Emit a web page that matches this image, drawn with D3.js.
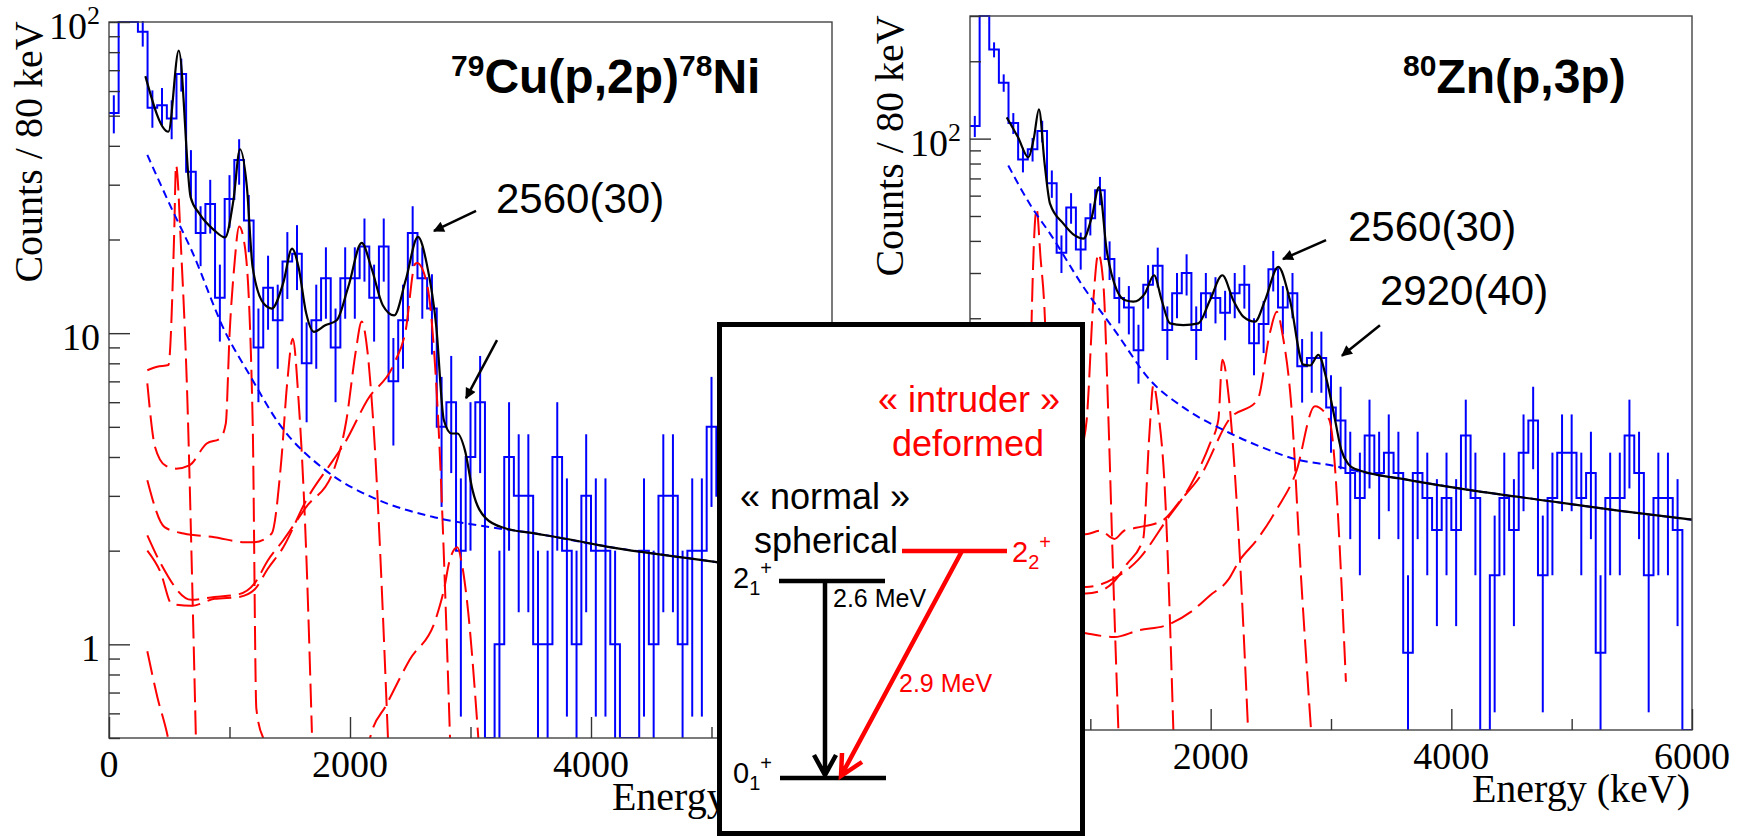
<!DOCTYPE html>
<html>
<head>
<meta charset="utf-8">
<script src="https://cdnjs.cloudflare.com/ajax/libs/d3/7.8.5/d3.min.js"></script>
<style>
  html, body { margin:0; padding:0; background:#fff; }
  svg { display:block; }
  .serif { font-family: "Liberation Serif", "Times New Roman", serif; }
  .sans { font-family: "Liberation Sans", Arial, Helvetica, sans-serif; }
</style>
</head>
<body>
<svg id="fig" width="1748" height="838"></svg>
<script>
// counts per 80 keV bin, 0 - 6000 keV (75 bins)
var binWidth = 80;

var cuCounts = [51,120,110,93,53,54,49,68,33,21, 26,13,27,36,23,9,14,11,17,18,
                8,11,15,9,15,15,19,13,19,7, 11,21,15,12,5,6,2,4,6,0,
                1,4,3,3,1,1,4,2,1,3, 2,2,1,0,0,2,1,3,3,1,
                2,2,5,3,2,4,1,2,3,2, 2,3,1,2,2];

var znCounts = [112,340,222,165,115,83,91,107,67,36, 54,37,49,63,34,24,22,15,27,32,
                18,25,30,18,25,24,21,25,27,16, 19,31,22,25,13,14,14,9,8,5,
                4,7,5,6,5,1,5,4,3,4, 3,7,4,0,2,4,3,6,8,2,
                4,6,6,4,5,1,4,4,7,5, 2,4,4,3,0];

// total fit [keV, counts]
var cuFit = [[302,67],[493,44.4],[579,80.9],[677,27.4],[747,24.3],[874,21.4],[963,20.3],[1033,26.8],
  [1087,39],[1144,29.6],[1192,16.3],[1287,12.4],[1351,12.0],[1446,14.5],[1519,18.7],[1573,16.3],
  [1636,11.6],[1700,10.1],[1795,10.6],[1890,11.0],[1986,14.1],[2097,19.5],[2176,16.3],[2272,12.3],
  [2367,11.4],[2462,14.8],[2564,20.4],[2637,16.7],[2716,10.5],[2779,5.25],[2843,4.76],[2891,4.76],
  [2954,4.2],[3017,3.13],[3128,2.54],[3288,2.36],[3542,2.27],[3859,2.16],[4075,2.08],[5029,1.84],[6000,1.62]];

var znFit = [[305,121],[400,101],[485,84.6],[530,100],[573,130],[620,80],[665,55.9],[776,46.7],[870,42],
  [942,40.8],[1012,49.5],[1072,64.7],[1136,36.8],[1219,25.8],[1290,23.5],[1357,23.2],[1454,25.0],
  [1529,29.4],[1593,23.5],[1662,19.1],[1773,18.8],[1898,19.1],[1994,23.5],[2097,29.4],[2188,23.5],
  [2271,20.3],[2369,19.4],[2452,23.5],[2562,31.7],[2659,23.5],[2770,13.2],[2826,13.1],[2895,14.4],
  [2964,11.5],[3033,8.07],[3084,6.18],[3144,5.41],[3203,5.18],[3619,4.72],[4214,4.25],[4809,3.89],
  [5404,3.56],[6000,3.29]];

// background
var cuBkg = [[318,37.4],[525,24.9],[684,18.5],[969,10.0],[1160,7.42],[1414,5.1],[1795,3.63],[2208,2.94],
  [2684,2.57],[3161,2.38],[3542,2.27],[4075,2.08],[5029,1.84],[6000,1.62]];
var znBkg = [[318,78.6],[512,54.2],[665,42.7],[942,26.5],[1219,17.5],[1496,11.5],[1773,9.0],[2153,7.17],
  [2470,6.18],[2708,5.65],[3025,5.33],[3203,5.1],[3619,4.72],[4214,4.25],[4809,3.89],[5404,3.56],[6000,3.29]];

// simulated response of each transition
var cu580  = [[318,7.6],[400,7.8],[493,7.9],[541,20.9],[556,34.7],[600,18],[651,6],[690,1.6],[721,0.5]];
var cu1080 = [[318,6.9],[382,4.31],[470,3.75],[556,3.67],[667,3.76],[811,4.42],[921,4.58],[969,5.12],
  [1001,10],[1039,16.3],[1080,22],[1128,18.9],[1192,5.25],[1223,0.62],[1280,0.5]];
var cu1520 = [[318,3.37],[461,2.38],[620,2.27],[874,2.21],[1128,2.13],[1208,2.13],[1350,2.27],[1430,3.9],
  [1480,7],[1525,9.6],[1573,6.1],[1636,2.0],[1684,0.52]];
var cu2100 = [[318,2.24],[429,1.82],[684,1.39],[874,1.42],[1080,1.45],[1208,1.57],[1318,1.86],[1446,2.16],
  [1636,2.76],[1859,3.58],[1970,5.25],[2049,8.8],[2097,10.9],[2144,8.8],[2192,5.25],[2315,0.5]];
var cu2560 = [[318,2.0],[429,1.7],[520,1.35],[684,1.33],[874,1.40],[1080,1.42],[1208,1.5],[1318,1.75],
  [1446,2.05],[1636,2.9],[1859,3.9],[1954,4.42],[2144,6.1],[2367,8.0],[2462,10.2],[2541,16.7],
  [2557,16.8],[2637,14.5],[2732,5.25],[2830,0.5]];
var cu2920 = [[318,0.95],[400,0.68],[490,0.5],[560,0.35],[2100,0.35],[2166,0.5],[2303,0.64],[2494,0.89],
  [2716,1.22],[2780,1.5],[2827,1.86],[2891,2.05],[2930,1.8],[2970,1.39],[3065,0.5]];

var zn580  = [[318,7],[420,6.5],[480,7],[505,14],[512,19.7],[554,53.3],[585,35],[623,19.7],[660,5],[700,1],[720,0.5]];
var zn1080 = [[318,6],[500,4.5],[700,4.2],[880,5],[940,6.5],[970,8.07],[1025,23.5],[1066,35.7],[1108,27.3],
  [1149,8.5],[1190,2],[1233,0.5]];
var zn1520 = [[318,3],[600,1.9],[963,1.7],[1100,1.75],[1201,1.9],[1300,2.2],[1439,2.77],[1490,7],[1524,11],
  [1565,8.6],[1617,4.5],[1690,0.5]];
var zn2100 = [[318,3.5],[600,2.2],[963,1.8],[1201,1.95],[1399,2.3],[1637,3.3],[1835,4.5],[1994,6.5],[2064,8.07],
  [2097,13.8],[2153,9.6],[2230,3],[2311,0.5]];
var zn2560 = [[318,5],[600,3.2],[963,2.89],[1082,2.98],[1201,2.77],[1280,2.98],[1379,3.06],[1597,3.26],[1756,3.95],
  [1915,4.87],[2153,8.07],[2390,9.64],[2493,17.6],[2549,21.2],[2600,17],[2668,9.4],[2750,2],[2834,0.5]];
var zn2920 = [[318,2],[600,1.3],[963,1.19],[1201,1.15],[1399,1.22],[1637,1.28],[1835,1.44],[1994,1.67],
  [2153,1.94],[2231,2.25],[2390,2.77],[2549,3.61],[2708,5.01],[2866,9.1],[2985,8.07],[3124,0.77]];

var xTickLabels = [0, 2000, 4000, 6000];
var yTickLabels = [1, 10, 100];

// arrows pointing at the 2^+ candidates [from, to] in keV / counts
var cuArrows = [[[3046,24.7],[2697,21.3]], [[3220,9.5],[2963,6.18]]];
var znArrows = [[[2959,40.3],[2601,34.0]], [[3407,18.8],[3091,14.3]]];

// level-scheme inset (page pixels), drawn over both spectra
var insetBox = {x: 717, y: 322, w: 368, h: 514};

var svg = d3.select("#fig")
  , defs = svg.append("defs");

defs.append("marker")
  .attr("id", "head")
  .attr("viewBox", "0 0 10 10")
  .attr("refX", 9).attr("refY", 5)
  .attr("markerWidth", 13).attr("markerHeight", 11)
  .attr("markerUnits", "userSpaceOnUse")
  .attr("orient", "auto")
  .append("path").attr("d", "M0,0L10,5L0,10z").attr("fill", "#000");

// everything left of the inset (for the partly covered axis title)
defs.append("clipPath").attr("id", "left-of-inset")
  .append("rect").attr("x", 0).attr("y", 0).attr("width", insetBox.x).attr("height", 838);

// labels that fall under the inset are not visible in the figure
function underInset(px, py){
  return px > insetBox.x - 10 && px < insetBox.x + insetBox.w + 10 && py > insetBox.y && py < insetBox.y + insetBox.h;
}

function drawPanel(opt){
  var x = d3.scaleLinear().domain([0, 6000]).range([opt.left, opt.right])
    , y = d3.scaleLog().domain(opt.yDomain).range([opt.bottom, opt.top])
    , g = svg.append("g").attr("id", opt.id)
    , clipId = opt.id + "-clip";

  defs.append("clipPath").attr("id", clipId)
    .append("rect")
    .attr("x", opt.left).attr("y", opt.top - 1)
    .attr("width", opt.right - opt.left).attr("height", opt.bottom - opt.top + 1);

  var plot = g.append("g").attr("clip-path", "url(#" + clipId + ")");

  // histogram outline
  var d = "";
  opt.counts.forEach(function(c, i){
    var yy = c > 0 ? Math.max(y(c), opt.top) : opt.bottom;
    d += (i === 0 ? "M" + x(0) + "," + yy : "V" + yy) + "H" + x((i + 1) * binWidth);
  });
  plot.append("path")
    .attr("d", d)
    .attr("fill", "none")
    .attr("stroke", "#0000ff")
    .attr("stroke-width", 2);

  // poisson error bars
  plot.selectAll(".err")
    .data(opt.counts.map(function(c, i){ return {c: c, i: i}; }).filter(function(e){ return e.c > 0; }))
    .enter().append("line")
    .attr("x1", function(e){ return x((e.i + 0.5) * binWidth); })
    .attr("x2", function(e){ return x((e.i + 0.5) * binWidth); })
    .attr("y1", function(e){ return y(e.c + Math.sqrt(e.c)); })
    .attr("y2", function(e){ var lo = e.c - Math.sqrt(e.c); return lo > 0 ? y(lo) : opt.bottom; })
    .attr("stroke", "#0000ff")
    .attr("stroke-width", 2);

  var line = d3.line()
    .x(function(p){ return x(p[0]); })
    .y(function(p){ return y(p[1]); })
    .curve(d3.curveMonotoneX);

  opt.components.forEach(function(c){
    plot.append("path").datum(c)
      .attr("d", line)
      .attr("fill", "none")
      .attr("stroke", "#ff0000")
      .attr("stroke-width", 2)
      .attr("stroke-dasharray", "24,8");
  });

  plot.append("path").datum(opt.bkg)
    .attr("d", line)
    .attr("fill", "none")
    .attr("stroke", "#0000ff")
    .attr("stroke-width", 2)
    .attr("stroke-dasharray", "8,5");

  plot.append("path").datum(opt.fit)
    .attr("d", line)
    .attr("fill", "none")
    .attr("stroke", "#000")
    .attr("stroke-width", 2.2);

  // frame + ticks (inside, ROOT style)
  g.append("rect")
    .attr("x", opt.left).attr("y", opt.top)
    .attr("width", opt.right - opt.left).attr("height", opt.bottom - opt.top)
    .attr("fill", "none").attr("stroke", "#444").attr("stroke-width", 1.4);

  var isMajor = function(t){ var l = Math.log10(t); return Math.abs(l - Math.round(l)) < 1e-6; }
    , yt = y.ticks()
    , xt = d3.range(0, 6001, 1000);

  function ticks(axis, tr){
    var a = g.append("g").attr("transform", tr).attr("color", "#333").call(axis);
    a.select(".domain").remove();
    a.selectAll("line").attr("stroke-width", 1.4);
  }
  ticks(d3.axisLeft(y).tickValues(yt.filter(isMajor)).tickSize(-21).tickFormat(""), "translate(" + opt.left + ",0)");
  ticks(d3.axisLeft(y).tickValues(yt.filter(function(t){ return !isMajor(t); })).tickSize(-11).tickFormat(""), "translate(" + opt.left + ",0)");
  ticks(d3.axisBottom(x).tickValues(xt.filter(function(t){ return t % 2000 === 0; })).tickSize(-21).tickFormat(""), "translate(0," + opt.bottom + ")");
  ticks(d3.axisBottom(x).tickValues(xt.filter(function(t){ return t % 2000 !== 0; })).tickSize(-11).tickFormat(""), "translate(0," + opt.bottom + ")");

  // tick labels
  g.selectAll(".xlab")
    .data(xTickLabels.filter(function(t){ return !underInset(x(t), opt.bottom + 30); }))
    .enter().append("text")
    .attr("class", "serif")
    .attr("x", function(t){ return x(t); })
    .attr("y", opt.bottom + 39)
    .attr("text-anchor", "middle")
    .style("font-size", "38px")
    .text(function(t){ return t; });

  yTickLabels.forEach(function(t){
    if (underInset(opt.left - 20, y(t))) return;
    var lab = g.append("text")
      .attr("class", "serif")
      .attr("x", opt.left - 9)
      .attr("y", y(t) + 17)
      .attr("text-anchor", "end")
      .style("font-size", "38px");
    if (t === 100) {
      lab.append("tspan").text("10");
      lab.append("tspan").attr("dy", -15).style("font-size", "26px").text("2");
    } else {
      lab.text(t);
    }
  });

  g.append("text")
    .attr("class", "serif")
    .attr("transform", "translate(" + opt.yTitle[0] + "," + opt.yTitle[1] + ") rotate(-90)")
    .attr("text-anchor", "middle")
    .style("font-size", "40px")
    .text("Counts / 80 keV");

  var xt2 = g.append("text")
    .attr("class", "serif")
    .attr("x", opt.right - 2)
    .attr("y", opt.bottom + 72)
    .attr("text-anchor", "end")
    .style("font-size", "40px")
    .text("Energy (keV)");
  if (opt.right > insetBox.x && opt.left < insetBox.x) xt2.attr("clip-path", "url(#left-of-inset)");

  // reaction title
  var title = g.append("text")
    .attr("class", "sans")
    .attr("x", opt.title.x).attr("y", opt.top + opt.title.dy)
    .style("font-size", "48px")
    .style("font-weight", "bold");
  opt.title.parts.forEach(function(p){
    title.append("tspan")
      .attr("dy", p.sup ? -17 : (p.after ? 17 : 0))
      .style("font-size", p.sup ? "30px" : "48px")
      .text(p.t);
  });

  // arrows + energy labels
  opt.arrows.forEach(function(a){
    g.append("line")
      .attr("x1", x(a[0][0])).attr("y1", y(a[0][1]))
      .attr("x2", x(a[1][0])).attr("y2", y(a[1][1]))
      .attr("stroke", "#000").attr("stroke-width", 2.5)
      .attr("marker-end", "url(#head)");
  });
  opt.labels.forEach(function(l){
    g.append("text")
      .attr("class", "sans")
      .attr("x", opt.left + l.dx).attr("y", opt.top + l.dy)
      .style("font-size", "42px")
      .text(l.t);
  });
}

drawPanel({
  id: "cu"
  , left: 109, right: 832, top: 22, bottom: 738
  , yDomain: [0.5, 100]
  , counts: cuCounts, fit: cuFit, bkg: cuBkg
  , components: [cu580, cu1080, cu1520, cu2100, cu2560, cu2920]
  , yTitle: [42, 152]
  , title: {x: 451, dy: 71, parts: [{t: "79", sup: true}, {t: "Cu(p,2p)", after: true}, {t: "78", sup: true}, {t: "Ni", after: true}]}
  , arrows: cuArrows
  , labels: [{t: "2560(30)", dx: 387, dy: 191}]
});

drawPanel({
  id: "zn"
  , left: 970, right: 1692, top: 16, bottom: 730
  , yDomain: [0.5, 300]
  , counts: znCounts, fit: znFit, bkg: znBkg
  , components: [zn580, zn1080, zn1520, zn2100, zn2560, zn2920]
  , yTitle: [903, 146]
  , title: {x: 1403, dy: 77, parts: [{t: "80", sup: true}, {t: "Zn(p,3p)", after: true}]}
  , arrows: znArrows
  , labels: [{t: "2560(30)", dx: 378, dy: 225}, {t: "2920(40)", dx: 410, dy: 289}]
});

// level scheme inset
var inset = svg.append("g").attr("transform", "translate(" + insetBox.x + "," + insetBox.y + ")");

inset.append("rect")
  .attr("x", 2.5).attr("y", 2.5)
  .attr("width", insetBox.w - 5).attr("height", insetBox.h - 5)
  .attr("fill", "#fff").attr("stroke", "#000").attr("stroke-width", 5);

function say(t, x, y, size, color, anchor){
  return inset.append("text")
    .attr("class", "sans")
    .attr("x", x).attr("y", y)
    .attr("fill", color)
    .attr("text-anchor", anchor || "start")
    .style("font-size", size + "px")
    .text(t);
}
say("\u00ab intruder \u00bb", 252, 90, 36, "#ff0000", "middle");
say("deformed", 251, 134, 36, "#ff0000", "middle");
say("\u00ab normal \u00bb", 108, 187, 36, "#000", "middle");
say("spherical", 109, 231, 36, "#000", "middle");
say("2.6 MeV", 116, 285, 25, "#000");
say("2.9 MeV", 182, 370, 25, "#ff0000");

function level(x1, x2, yy, color){
  inset.append("line")
    .attr("x1", x1).attr("x2", x2).attr("y1", yy).attr("y2", yy)
    .attr("stroke", color).attr("stroke-width", 4.5);
}
level(185, 290, 229, "#ff0000");
level(62, 168, 259, "#000");
level(63, 169, 456, "#000");

function spin(x, y, main, sub, color){
  var t = inset.append("text")
    .attr("class", "sans")
    .attr("x", x).attr("y", y)
    .attr("fill", color)
    .style("font-size", "29px");
  t.append("tspan").text(main);
  t.append("tspan").attr("dy", 7).style("font-size", "20px").text(sub);
  t.append("tspan").attr("dy", -20).style("font-size", "20px").text("+");
}
spin(295, 240, "2", "2", "#ff0000");
spin(16, 266, "2", "1", "#000");
spin(16, 461, "0", "1", "#000");

// transitions
inset.append("path")
  .attr("d", "M108,259V453M97,433L108,453L119,433")
  .attr("fill", "none").attr("stroke", "#000").attr("stroke-width", 4.5);
inset.append("path")
  .attr("d", "M245,229L124,454M125,431L124,454L145,440")
  .attr("fill", "none").attr("stroke", "#ff0000").attr("stroke-width", 4.5);
</script>
</body>
</html>
